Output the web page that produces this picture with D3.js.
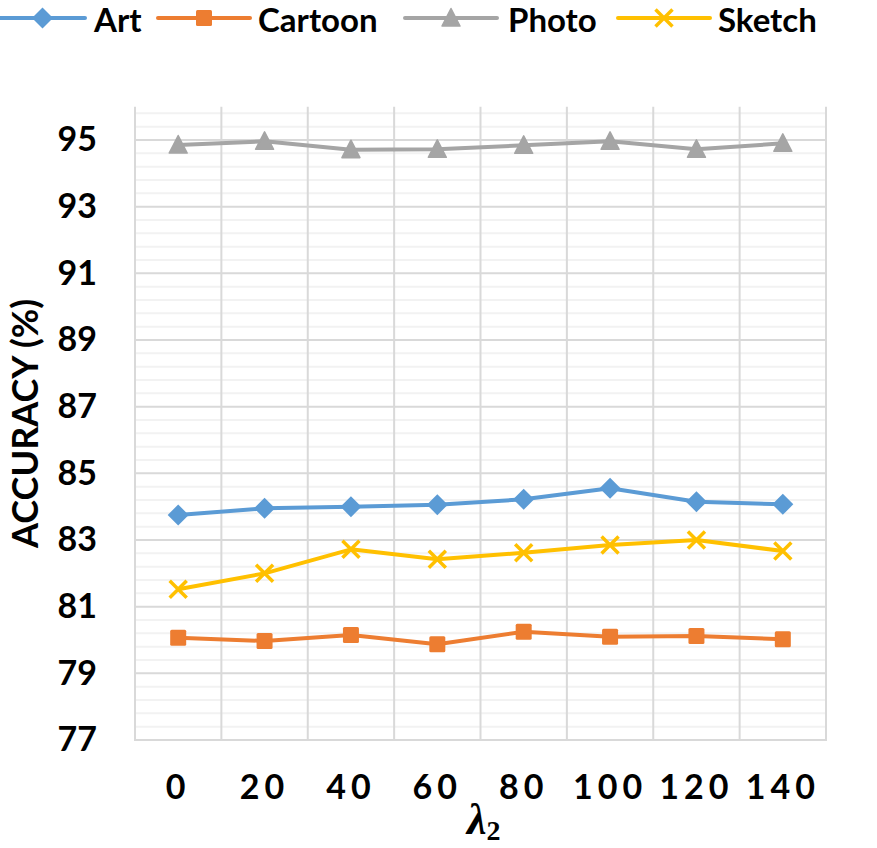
<!DOCTYPE html>
<html lang="en">
<head>
    <meta charset="UTF-8">
    <script src="https://d3js.org/d3.v7.min.js"></script>
    <title>Accuracy vs lambda2</title>
    <style>
        body { margin: 0; background: #fff; }
        text { font-family: Lato, "Open Sans", sans-serif; font-weight: bold; fill: #000; }
    </style>
</head>
<body>
    <div id="chart"></div>
<script>
    // data
    var categories = ["0", "20", "40", "60", "80", "100", "120", "140"];
    var art     = [83.75, 83.95, 84.00, 84.06, 84.22, 84.55, 84.15, 84.07];
    var cartoon = [80.07, 79.97, 80.15, 79.87, 80.25, 80.10, 80.12, 80.02];
    var photo   = [94.85, 94.96, 94.71, 94.72, 94.84, 94.96, 94.72, 94.90];
    var sketch  = [81.52, 82.00, 82.72, 82.42, 82.62, 82.85, 83.00, 82.67];
    var yTicks  = [77, 79, 81, 83, 85, 87, 89, 91, 93, 95];
    var seriesNames = ["Art", "Cartoon", "Photo", "Sketch"];

    var width = 877, height = 848;
    var plotLeft = 135, plotRight = 826, plotTop = 106.7, plotBottom = 740;

    var svg = d3.select("#chart")
      .append("svg")
        .attr("width", width)
        .attr("height", height);

    var x = d3.scaleBand()
      .domain(categories)
      .range([plotLeft, plotRight]);

    var y = d3.scaleLinear()
      .domain([77, 96])
      .range([plotBottom, plotTop]);

    var series = [
      {name: "Art", values: art, color: "#5B9BD5", marker: "diamond"},
      {name: "Cartoon", values: cartoon, color: "#ED7D31", marker: "square"},
      {name: "Photo", values: photo, color: "#A5A5A5", marker: "triangle"},
      {name: "Sketch", values: sketch, color: "#FFC000", marker: "cross"}
    ];

    // minor gridlines every 0.4
    var minor = d3.range(0, 48).map(function(i) { return +(77 + i * 0.4).toFixed(1); })
      .filter(function(v) { return yTicks.indexOf(v) < 0; });

    svg.append("g")
      .selectAll("line")
      .data(minor)
      .enter().append("line")
        .attr("x1", plotLeft).attr("x2", plotRight)
        .attr("y1", function(d) { return y(d); })
        .attr("y2", function(d) { return y(d); })
        .attr("stroke", "#f2f2f2")
        .attr("stroke-width", 2);

    svg.append("g")
      .selectAll("line")
      .data(yTicks)
      .enter().append("line")
        .attr("x1", plotLeft).attr("x2", plotRight)
        .attr("y1", function(d) { return y(d); })
        .attr("y2", function(d) { return y(d); })
        .attr("stroke", "#d9d9d9")
        .attr("stroke-width", 2);

    // vertical gridlines at category boundaries
    var bounds = categories.map(function(c) { return x(c); }).concat([plotRight]);
    svg.append("g")
      .selectAll("line")
      .data(bounds)
      .enter().append("line")
        .attr("x1", function(d) { return d; })
        .attr("x2", function(d) { return d; })
        .attr("y1", plotTop).attr("y2", plotBottom)
        .attr("stroke", "#d9d9d9")
        .attr("stroke-width", 2);

    // axes
    var yAxis = svg.append("g")
      .attr("transform", "translate(" + plotLeft + ",0)")
      .call(d3.axisLeft(y).tickValues(yTicks).tickSize(0).tickPadding(38));
    yAxis.select(".domain").remove();
    yAxis.selectAll("text").style("font-size", "34px").attr("font-family", null);

    var xAxis = svg.append("g")
      .attr("transform", "translate(0," + plotBottom + ")")
      .call(d3.axisBottom(x).tickSize(0).tickPadding(35));
    xAxis.select(".domain").remove();
    xAxis.selectAll("text")
      .style("font-size", "34px")
      .attr("font-family", null)
      .style("letter-spacing", "5px");

    svg.append("line")
      .attr("x1", plotLeft - 1).attr("x2", plotRight + 1)
      .attr("y1", plotBottom).attr("y2", plotBottom)
      .attr("stroke", "#d9d9d9").attr("stroke-width", 2);

    // axis titles
    svg.append("text")
      .attr("transform", "translate(38," + ((plotTop + plotBottom) / 2) + ") rotate(-90)")
      .attr("text-anchor", "middle")
      .style("font-size", "36px")
      .text("ACCURACY (%)");

    var lam = svg.append("text")
      .attr("x", 467)
      .attr("y", 834)
      .style("font-family", "'Liberation Serif', 'DejaVu Serif', serif")
      .style("font-style", "italic")
      .style("font-size", "44px");
    lam.append("tspan").text("λ");
    lam.append("tspan")
      .attr("dy", 6)
      .style("font-style", "normal")
      .style("font-size", "28px")
      .text("2");

    // markers
    function drawMarker(g, type, color) {
      if (type === "diamond") {
        g.append("path").attr("d", "M0,-10.5L10.5,0L0,10.5L-10.5,0Z").attr("fill", color);
      } else if (type === "square") {
        g.append("rect").attr("x", -8).attr("y", -8).attr("width", 16).attr("height", 16)
          .attr("rx", 1.5).attr("fill", color);
      } else if (type === "triangle") {
        g.append("path").attr("d", "M0,-9.5L9,8L-9,8Z").attr("fill", color)
          .attr("stroke", color).attr("stroke-width", 1.5).attr("stroke-linejoin", "round");
      } else {
        g.append("path").attr("d", "M-8.5,-8.5L8.5,8.5M-8.5,8.5L8.5,-8.5").attr("fill", "none")
          .attr("stroke", color).attr("stroke-width", 3.5);
      }
    }

    var line = d3.line()
      .x(function(d, i) { return x(categories[i]) + x.bandwidth() / 2; })
      .y(function(d) { return y(d); });

    series.forEach(function(s) {
      svg.append("path")
        .datum(s.values)
        .attr("d", line)
        .attr("fill", "none")
        .attr("stroke", s.color)
        .attr("stroke-width", 4)
        .attr("stroke-linejoin", "round")
        .attr("stroke-linecap", "round");

      s.values.forEach(function(v, i) {
        var g = svg.append("g")
          .attr("transform", "translate(" + (x(categories[i]) + x.bandwidth() / 2) + "," + y(v) + ")");
        drawMarker(g, s.marker, s.color);
      });
    });

    // legend
    var legendPos = [
      {x1: 0, x2: 85, tx: 94},
      {x1: 158, x2: 250, tx: 258},
      {x1: 405, x2: 497, tx: 508},
      {x1: 618, x2: 710, tx: 718}
    ];
    var ly = 18;
    series.forEach(function(s, i) {
      var p = legendPos[i];
      svg.append("line")
        .attr("x1", p.x1).attr("x2", p.x2)
        .attr("y1", ly).attr("y2", ly)
        .attr("stroke", s.color)
        .attr("stroke-width", 4)
        .attr("stroke-linecap", "round");
      var g = svg.append("g")
        .attr("transform", "translate(" + ((p.x1 + p.x2) / 2) + "," + ly + ")");
      drawMarker(g, s.marker, s.color);
      svg.append("text")
        .attr("x", p.tx)
        .attr("y", 32)
        .style("font-size", "33px")
        .text(seriesNames[i]);
    });
</script>
</body>
</html>
